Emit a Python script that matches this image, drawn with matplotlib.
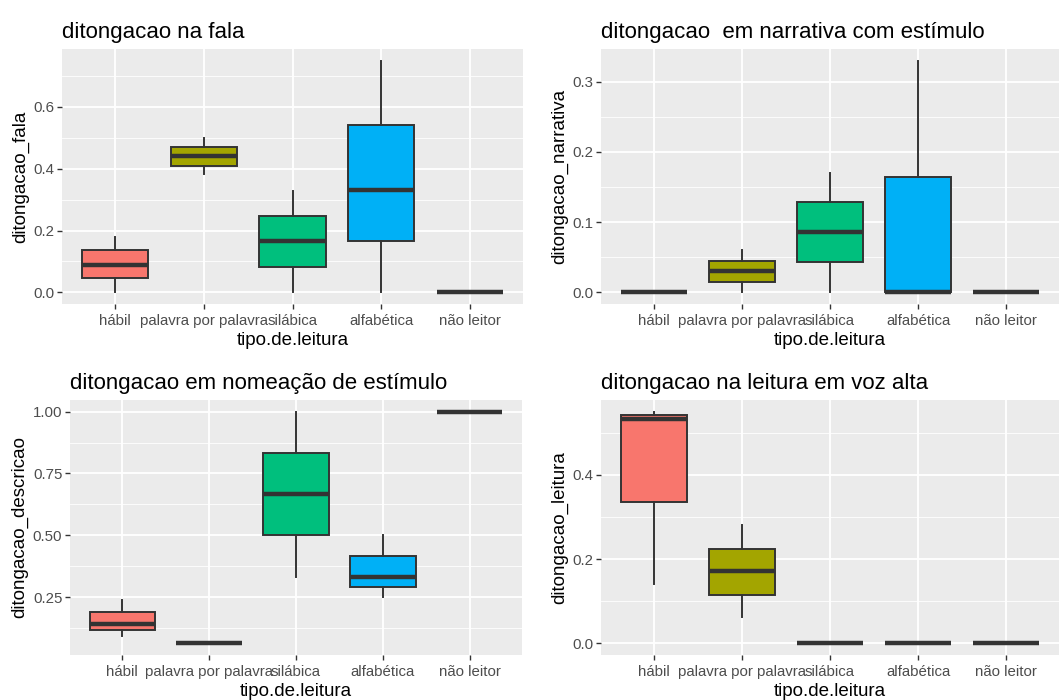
import matplotlib
matplotlib.use("Agg")
import matplotlib.pyplot as plt
from matplotlib.ticker import FixedLocator

plt.rcParams['font.family'] = ['Liberation Sans', 'DejaVu Sans']

categorias = ["hábil", "palavra por palavra", "silábica", "alfabética", "não leitor"]
cores = ["#F8766D", "#A3A500", "#00BF7D", "#00B0F6", "#E76BF3"]

# (whislo, q1, med, q3, whishi) for each category
fala_lo = [0.0, 0.382, 0.0, 0.0, 0.0]
fala_q1 = [0.046, 0.410, 0.083, 0.166, 0.0]
fala_med = [0.090, 0.442, 0.167, 0.331, 0.0]
fala_q3 = [0.136, 0.471, 0.248, 0.540, 0.0]
fala_hi = [0.179, 0.500, 0.329, 0.750, 0.0]

narr_lo = [0.0, 0.0, 0.0, 0.0, 0.0]
narr_q1 = [0.0, 0.015, 0.043, 0.0, 0.0]
narr_med = [0.0, 0.031, 0.086, 0.0, 0.0]
narr_q3 = [0.0, 0.045, 0.128, 0.165, 0.0]
narr_hi = [0.0, 0.060, 0.170, 0.330, 0.0]

desc_lo = [0.091, 0.0625, 0.333, 0.250, 1.0]
desc_q1 = [0.115, 0.0625, 0.500, 0.290, 1.0]
desc_med = [0.142, 0.0625, 0.667, 0.333, 1.0]
desc_q3 = [0.191, 0.0625, 0.833, 0.417, 1.0]
desc_hi = [0.240, 0.0625, 1.000, 0.500, 1.0]

leit_lo = [0.142, 0.062, 0.0, 0.0, 0.0]
leit_q1 = [0.336, 0.115, 0.0, 0.0, 0.0]
leit_med = [0.533, 0.171, 0.0, 0.0, 0.0]
leit_q3 = [0.541, 0.225, 0.0, 0.0, 0.0]
leit_hi = [0.550, 0.280, 0.0, 0.0, 0.0]

W, H = 1059, 700
fig = plt.figure(figsize=(W / 100, H / 100), dpi=100)


def painel(box, titulo, ylabel, lo, q1, med, q3, hi, major, minor, ticklabels):
    x0, y0, x1, y1 = box
    ax = fig.add_axes([x0 / W, 1 - y1 / H, (x1 - x0) / W, (y1 - y0) / H])
    ax.set_facecolor("#EBEBEB")
    for s in ax.spines.values():
        s.set_visible(False)

    stats = []
    for i in range(len(categorias)):
        stats.append(dict(whislo=lo[i], q1=q1[i], med=med[i], q3=q3[i], whishi=hi[i]))
    pos = list(range(1, len(categorias) + 1))
    bp = ax.bxp(stats, positions=pos, widths=0.75, patch_artist=True,
                showfliers=False, showcaps=False,
                boxprops=dict(edgecolor="#333333", linewidth=1.4),
                medianprops=dict(color="#333333", linewidth=3.2, solid_capstyle="butt"),
                whiskerprops=dict(color="#333333", linewidth=1.4),
                zorder=3)
    for patch, c in zip(bp["boxes"], cores):
        patch.set_facecolor(c)

    lo_all = min(lo)
    hi_all = max(hi)
    pad = (hi_all - lo_all) * 0.05
    ax.set_ylim(lo_all - pad, hi_all + pad)
    ax.set_xlim(0.4, len(categorias) + 0.6)

    ax.yaxis.set_major_locator(FixedLocator(major))
    ax.yaxis.set_minor_locator(FixedLocator(minor))
    ax.set_yticklabels(ticklabels)
    ax.set_xticks(pos)
    ax.set_xticklabels(categorias)
    ax.grid(True, which="major", color="white", linewidth=1.3, zorder=0)
    ax.grid(True, which="minor", axis="y", color="white", linewidth=0.6, zorder=0)
    ax.set_axisbelow(True)
    ax.tick_params(axis="both", which="major", length=3.5, width=1.0, color="#333333",
                   labelcolor="#4D4D4D", labelsize=10.8, pad=2)
    ax.tick_params(axis="x", which="major", pad=3.5)
    ax.tick_params(axis="y", which="minor", length=0)

    ax.set_xlabel("tipo.de.leitura", fontsize=13.5, color="black", labelpad=3)
    ax.set_ylabel(ylabel, fontsize=13.5, color="black", labelpad=3)
    ax.set_title(titulo, loc="left", fontsize=16, color="black", pad=8)
    return ax


painel((62, 49, 523, 304), "ditongacao na fala", "ditongacao_fala",
       fala_lo, fala_q1, fala_med, fala_q3, fala_hi,
       [0.0, 0.2, 0.4, 0.6], [0.1, 0.3, 0.5, 0.7], ["0.0", "0.2", "0.4", "0.6"])

painel((601, 49, 1059, 304), "ditongacao  em narrativa com estímulo", "ditongacao_narrativa",
       narr_lo, narr_q1, narr_med, narr_q3, narr_hi,
       [0.0, 0.1, 0.2, 0.3], [0.05, 0.15, 0.25], ["0.0", "0.1", "0.2", "0.3"])

painel((70, 400, 522, 655), "ditongacao em nomeação de estímulo", "ditongacao_descricao",
       desc_lo, desc_q1, desc_med, desc_q3, desc_hi,
       [0.25, 0.5, 0.75, 1.0], [0.125, 0.375, 0.625, 0.875], ["0.25", "0.50", "0.75", "1.00"])

painel((601, 400, 1059, 655), "ditongacao na leitura em voz alta", "ditongacao_leitura",
       leit_lo, leit_q1, leit_med, leit_q3, leit_hi,
       [0.0, 0.2, 0.4], [0.1, 0.3, 0.5], ["0.0", "0.2", "0.4"])

fig.savefig("out.png", dpi=100, facecolor="white")
